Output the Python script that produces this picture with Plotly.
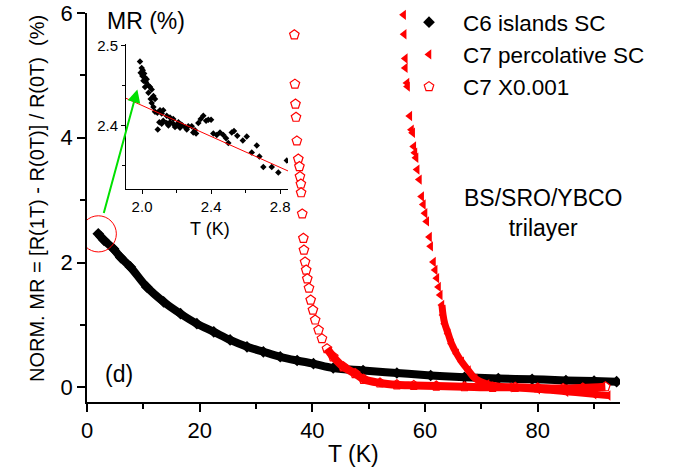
import plotly.graph_objects as go

# ---- data ----
# C6 islands SC (black diamonds)
c6_T = [2.0, 3.0, 4.7, 6.0, 7.7, 10.6, 13.6, 16.6, 19.5, 22.5, 25.4, 28.4, 31.3, 34.3,
        37.3, 40.2, 43.7, 49.0, 55.0, 61.0, 67.0, 73.0, 79.0, 85.0, 90.0, 94.0]
c6_MR = [2.46, 2.36, 2.22, 2.08, 1.93, 1.61, 1.37, 1.18, 1.02, 0.89, 0.76, 0.65, 0.57, 0.49,
         0.43, 0.38, 0.31, 0.27, 0.23, 0.19, 0.16, 0.14, 0.13, 0.11, 0.10, 0.09]

# C7 percolative SC (red left triangles)
c7p_T = [56.2, 56.3, 56.5, 56.5, 56.8, 56.9, 57.3, 57.6, 57.8, 58.0, 58.2, 58.4, 58.6, 59.0,
         59.4, 59.7, 60.0, 60.3, 60.8, 61.0, 61.5, 61.8, 62.1, 62.4, 62.7, 63.0, 63.2, 63.5,
         64.1, 64.7, 65.6, 66.5, 67.7, 68.9, 71.0, 75.0, 80.0, 85.0, 90.0, 92.5]
c7p_MR = [5.97, 5.66, 5.27, 5.12, 4.88, 4.82, 4.35, 4.13, 4.08, 3.86, 3.76, 3.68, 3.49, 3.33,
          3.06, 2.93, 2.79, 2.66, 2.41, 2.26, 2.01, 1.88, 1.75, 1.61, 1.48, 1.32, 1.16, 1.02,
          0.86, 0.70, 0.54, 0.41, 0.27, 0.14, 0.05, 0.00, -0.03, -0.07, -0.11, -0.13]

# C7 X0.001 (red open pentagons)
c7x_T = [36.8, 36.9, 37.0, 37.1, 37.25, 37.5, 37.7, 37.8, 37.96, 38.0, 38.2, 38.4, 38.5, 38.7,
         38.9, 39.1, 39.4, 39.7, 40.1, 40.5, 41.1, 41.7, 42.6, 43.7, 45.5, 47.6, 49.1, 52.0,
         55.0, 58.0, 62.0, 67.0, 72.0, 76.0, 80.0, 84.5, 88.0, 92.0]
c7x_MR = [5.65, 4.86, 4.54, 4.33, 3.95, 3.66, 3.54, 3.38, 3.26, 3.12, 2.78, 2.39, 2.20, 2.01,
          1.88, 1.74, 1.59, 1.40, 1.24, 1.08, 0.92, 0.78, 0.62, 0.49, 0.33, 0.22, 0.13, 0.07,
          0.04, 0.03, 0.02, 0.01, 0.00, 0.00, -0.01, -0.02, -0.01, 0.01]

# inset: low-temperature MR of C6
ins_T = [1.988, 1.998, 2.004, 1.992, 2.012, 2.002, 2.017, 2.027, 2.008, 2.023, 2.037, 2.017,
         2.046, 2.056, 2.037, 2.066, 2.050, 2.075, 2.056, 2.066, 2.075, 2.104, 2.123, 2.089,
         2.114, 2.143, 2.162, 2.181, 2.100, 2.123, 2.143, 2.162, 2.181, 2.201, 2.211, 2.230,
         2.249, 2.268, 2.288, 2.307, 2.259, 2.091, 2.114, 2.153, 2.191, 2.220, 2.297, 2.313,
         2.326, 2.340, 2.355, 2.371, 2.384, 2.400, 2.413, 2.433, 2.452, 2.471, 2.487, 2.500,
         2.520, 2.533, 2.552, 2.584, 2.607, 2.636, 2.665, 2.680, 2.703, 2.752, 2.790, 2.839]
ins_MR = [2.480, 2.472, 2.469, 2.466, 2.465, 2.462, 2.460, 2.458, 2.456, 2.454, 2.450, 2.448,
          2.448, 2.445, 2.441, 2.437, 2.433, 2.433, 2.428, 2.423, 2.417, 2.419, 2.419, 2.416,
          2.415, 2.412, 2.410, 2.408, 2.404, 2.406, 2.403, 2.404, 2.402, 2.400, 2.404, 2.401,
          2.398, 2.399, 2.399, 2.394, 2.395, 2.395, 2.402, 2.400, 2.398, 2.397, 2.391, 2.390,
          2.403, 2.408, 2.412, 2.406, 2.407, 2.407, 2.390, 2.388, 2.391, 2.388, 2.384, 2.378,
          2.391, 2.393, 2.387, 2.381, 2.386, 2.366, 2.375, 2.361, 2.348, 2.348, 2.341, 2.356]
fit_T = [1.907, 2.846]
fit_MR = [2.434, 2.343]

x_ticks = [0, 20, 40, 60, 80]
y_ticks = [0, 2, 4, 6]
ins_x_ticks = [2.0, 2.4, 2.8]
ins_x_text = ["2.0", "2.4", "2.8"]
ins_y_ticks = [2.4, 2.5]
ins_y_text = ["2.4", "2.5"]

series_names = ["C6 islands SC", "C7 percolative SC", "C7 X0.001"]

FONT = "Liberation Sans, Arial, sans-serif"
RED = "#ff0000"

# dense parts drawn as a thick band
c7x_band = [i for i, t in enumerate(c7x_T) if t >= 42.0]
c7p_band = [i for i, t in enumerate(c7p_T) if t >= 63.0]

fig = go.Figure()

# C6 band + markers
fig.add_trace(go.Scatter(x=c6_T, y=c6_MR, mode="lines", line=dict(color="black", width=8, shape="spline"),
                         showlegend=False, hoverinfo="skip"))
fig.add_trace(go.Scatter(x=c6_T, y=c6_MR, mode="markers", name=series_names[0],
                         marker=dict(symbol="diamond", size=9, color="black")))

# C7 X0.001
fig.add_trace(go.Scatter(x=c7x_T, y=c7x_MR, mode="markers", name=series_names[2],
                         marker=dict(symbol="pentagon", size=10, color="white",
                                     line=dict(color=RED, width=1.2)),
                         cliponaxis=False, showlegend=False))
fig.add_trace(go.Scatter(x=[c7x_T[i] for i in c7x_band], y=[c7x_MR[i] for i in c7x_band], mode="lines",
                         line=dict(color=RED, width=8, shape="spline"), showlegend=False, hoverinfo="skip"))

# C7 percolative
fig.add_trace(go.Scatter(x=c7p_T, y=c7p_MR, mode="markers", name=series_names[1],
                         marker=dict(symbol="triangle-left", size=9, color=RED),
                         cliponaxis=False))
fig.add_trace(go.Scatter(x=[c7p_T[i] for i in c7p_band], y=[c7p_MR[i] for i in c7p_band], mode="lines",
                         line=dict(color=RED, width=7, shape="spline"), showlegend=False, hoverinfo="skip"))

# legend entry for pentagons (after triangles, to keep legend order)
fig.add_trace(go.Scatter(x=[None], y=[None], mode="markers", name=series_names[2],
                         marker=dict(symbol="pentagon", size=10, color="white",
                                     line=dict(color=RED, width=1.2))))

# inset
fig.add_trace(go.Scatter(x=ins_T, y=ins_MR, mode="markers", xaxis="x2", yaxis="y2", showlegend=False,
                         marker=dict(symbol="diamond", size=5, color="black")))
fig.add_trace(go.Scatter(x=fit_T, y=fit_MR, mode="lines", xaxis="x2", yaxis="y2", showlegend=False,
                         line=dict(color=RED, width=1)))

L, R, T, B = 87, 60, 13, 66
W, H = 680, 468
PW, PH = W - L - R, H - T - B


def px(xp):
    return (xp - L) / PW


def py(yp):
    return (H - B - yp) / PH


axis_common = dict(showline=True, linecolor="black", linewidth=1.5, ticks="outside",
                   tickcolor="black", showgrid=False, zeroline=False, mirror=False)

fig.update_layout(
    width=W, height=H, margin=dict(l=L, r=R, t=T, b=B, autoexpand=False),
    paper_bgcolor="white", plot_bgcolor="rgba(0,0,0,0)",
    font=dict(family=FONT, color="black"),
    xaxis=dict(range=[0, 94.6], tickvals=x_ticks, ticklen=8, tickwidth=1.5,
               minor=dict(dtick=10, tick0=0, ticklen=5, tickwidth=1.5, ticks="outside", tickcolor="black"),
               tickfont=dict(size=22), **axis_common),
    yaxis=dict(range=[-0.235, 6.0], tickvals=y_ticks, ticklen=8, tickwidth=1.5,
               minor=dict(dtick=1, tick0=0, ticklen=5, tickwidth=1.5, ticks="outside", tickcolor="black"),
               tickfont=dict(size=22), **axis_common),
    xaxis2=dict(domain=[px(126), px(288)], anchor="y2", range=[1.907, 2.846],
                tickvals=ins_x_ticks, ticktext=ins_x_text, ticklen=4, tickwidth=1,
                minor=dict(tickvals=[2.2, 2.6], ticklen=3, ticks="outside", tickcolor="black"),
                tickfont=dict(size=15), **{**axis_common, "linewidth": 1}),
    yaxis2=dict(domain=[py(189.3), py(44)], anchor="x2", range=[2.32, 2.502],
                tickvals=ins_y_ticks, ticktext=ins_y_text, ticklen=4, tickwidth=1,
                minor=dict(tickvals=[2.35, 2.45], ticklen=3, ticks="outside", tickcolor="black"),
                tickfont=dict(size=15), **{**axis_common, "linewidth": 1}),
    legend=dict(x=395 / W, y=1 - 1 / H, xref="container", yref="container",
                xanchor="left", yanchor="top", bgcolor="rgba(0,0,0,0)",
                font=dict(size=22.5), itemwidth=58, tracegroupgap=0),
    showlegend=True,
)

ann = []
ann.append(dict(text="T (K)", x=px(353), y=py(454), xref="paper", yref="paper", showarrow=False,
                font=dict(size=23), xanchor="center", yanchor="middle"))
ann.append(dict(text="NORM. MR = [R(1T) - R(0T)] / R(0T)  (%)", x=px(37), y=py(199), xref="paper",
                yref="paper", showarrow=False, textangle=-90, font=dict(size=20),
                xanchor="center", yanchor="middle"))
ann.append(dict(text="MR (%)", x=px(105), y=py(21), xref="paper", yref="paper", showarrow=False,
                font=dict(size=23), xanchor="left", yanchor="middle"))
ann.append(dict(text="T (K)", x=px(210), y=py(229), xref="paper", yref="paper", showarrow=False,
                font=dict(size=18), xanchor="center", yanchor="middle"))
ann.append(dict(text="(d)", x=px(119), y=py(374), xref="paper", yref="paper", showarrow=False,
                font=dict(size=23), xanchor="center", yanchor="middle"))
ann.append(dict(text="BS/SRO/YBCO<br>trilayer", x=px(543), y=py(212.5), xref="paper", yref="paper",
                showarrow=False, font=dict(size=23), xanchor="center", yanchor="middle"))
# green arrow from circled region to inset
ann.append(dict(text="", x=8.94, y=4.775, xref="x", yref="y", ax=-34, ay=125, showarrow=True,
                arrowhead=2, arrowsize=1.3, arrowwidth=2, arrowcolor="#00e000", standoff=0))
fig.update_layout(annotations=ann)

fig.add_shape(type="circle", xref="x", yref="y", x0=-1.17, x1=5.21, y0=2.17, y1=2.75,
              line=dict(color=RED, width=1))

fig.write_html("out.html")
